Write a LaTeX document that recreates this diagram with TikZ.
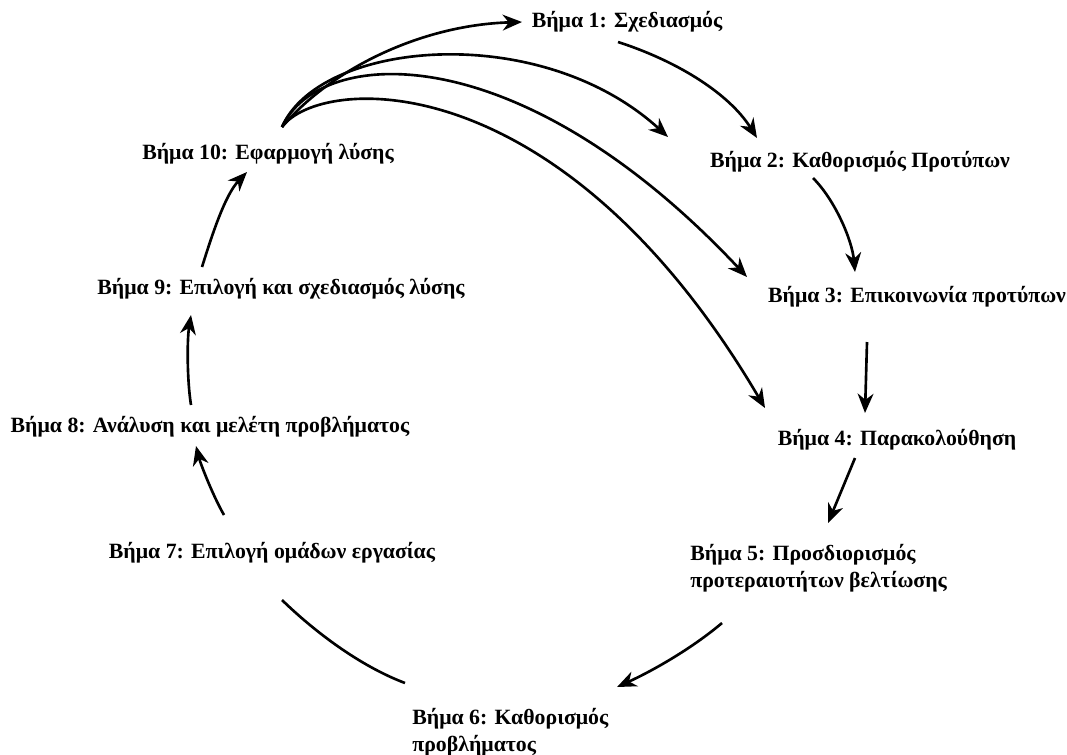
\documentclass[tikz,border=0pt]{standalone}
\usepackage{fontspec}
\setmainfont{Liberation Serif}
\usetikzlibrary{arrows.meta,calc}
\begin{document}
\begin{tikzpicture}[x=0.02cm,y=-0.02cm,
  lbl/.style={font=\bfseries\fontsize{12.4}{15.5}\selectfont, inner sep=0pt, align=left},
  arr/.style={line width=1.5pt, -{Stealth[length=11pt,width=9pt,inset=3.5pt]}},
  ln/.style={line width=1.5pt}]
\useasboundingbox (0,0) rectangle (1067,754);
\node[lbl] (s1) at (627,22) {Βήμα 1: Σχεδιασμός};
\node[lbl] (s2) at (860,162) {Βήμα 2: Καθορισμός Προτύπων};
\node[lbl] (s3) at (917,297) {Βήμα 3: Επικοινωνία προτύπων};
\node[lbl] (s4) at (897,440) {Βήμα 4: Παρακολούθηση};
\node[lbl,anchor=west] (s5) at (690,568) {Βήμα 5: Προσδιορισμός\\προτεραιοτήτων βελτίωσης};
\node[lbl,anchor=west] (s6) at (412,732) {Βήμα 6: Καθορισμός\\προβλήματος};
\node[lbl] (s7) at (272,553) {Βήμα 7: Επιλογή ομάδων εργασίας};
\node[lbl] (s8) at (210,427) {Βήμα 8: Ανάλυση και μελέτη προβλήματος};
\node[lbl] (s9) at (281,289) {Βήμα 9: Επιλογή και σχεδιασμός λύσης};
\node[lbl] (s10) at (268,154) {Βήμα 10: Εφαρμογή λύσης};

% from step 10 to steps 1-4
\draw[arr] ($(s10)+(14,-27)$) .. controls (330,70) and (420,25) .. ($(s1)+(-105,0)$);
\draw[arr] ($(s10)+(14,-27)$) .. controls (320,40) and (540,20) .. ($(s2)+(-192,-25)$);
\draw[arr] ($(s10)+(14,-27)$) .. controls (320,45) and (520,35) .. ($(s3)+(-170,-20)$);
\draw[arr] ($(s10)+(14,-27)$) .. controls (320,75) and (560,60) .. ($(s4)+(-132,-32)$);
% cycle
\draw[arr] ($(s1)+(-9,20)$) .. controls (680,62) and (730,95) .. ($(s2)+(-103,-24)$);
\draw[arr] ($(s2)+(-47,16)$) .. controls (835,200) and (852,240) .. ($(s3)+(-62,-25)$);
\draw[arr] ($(s3)+(-50,45)$) -- ($(s4)+(-32,-27)$);
\draw[arr] ($(s4)+(-42,18)$) -- ($(s5.west)+(138,-45)$);
\draw[arr] ($(s5.west)+(32,55)$) .. controls (690,650) and (650,672) .. ($(s6.west)+(205,-45)$);
\draw[ln] ($(s7)+(10,47)$) .. controls (315,632) and (360,666) .. ($(s6.west)+(-7,-49)$);
\draw[arr] ($(s7)+(-48,-38)$) .. controls (212,494) and (200,462) .. ($(s8)+(-14,19)$);
\draw[arr] ($(s8)+(-19,-22)$) .. controls (187,380) and (187,340) .. ($(s9)+(-90,26)$);
\draw[arr] ($(s9)+(-79,-22)$) .. controls (212,235) and (225,195) .. ($(s10)+(-21,18)$);
\end{tikzpicture}
\end{document}
